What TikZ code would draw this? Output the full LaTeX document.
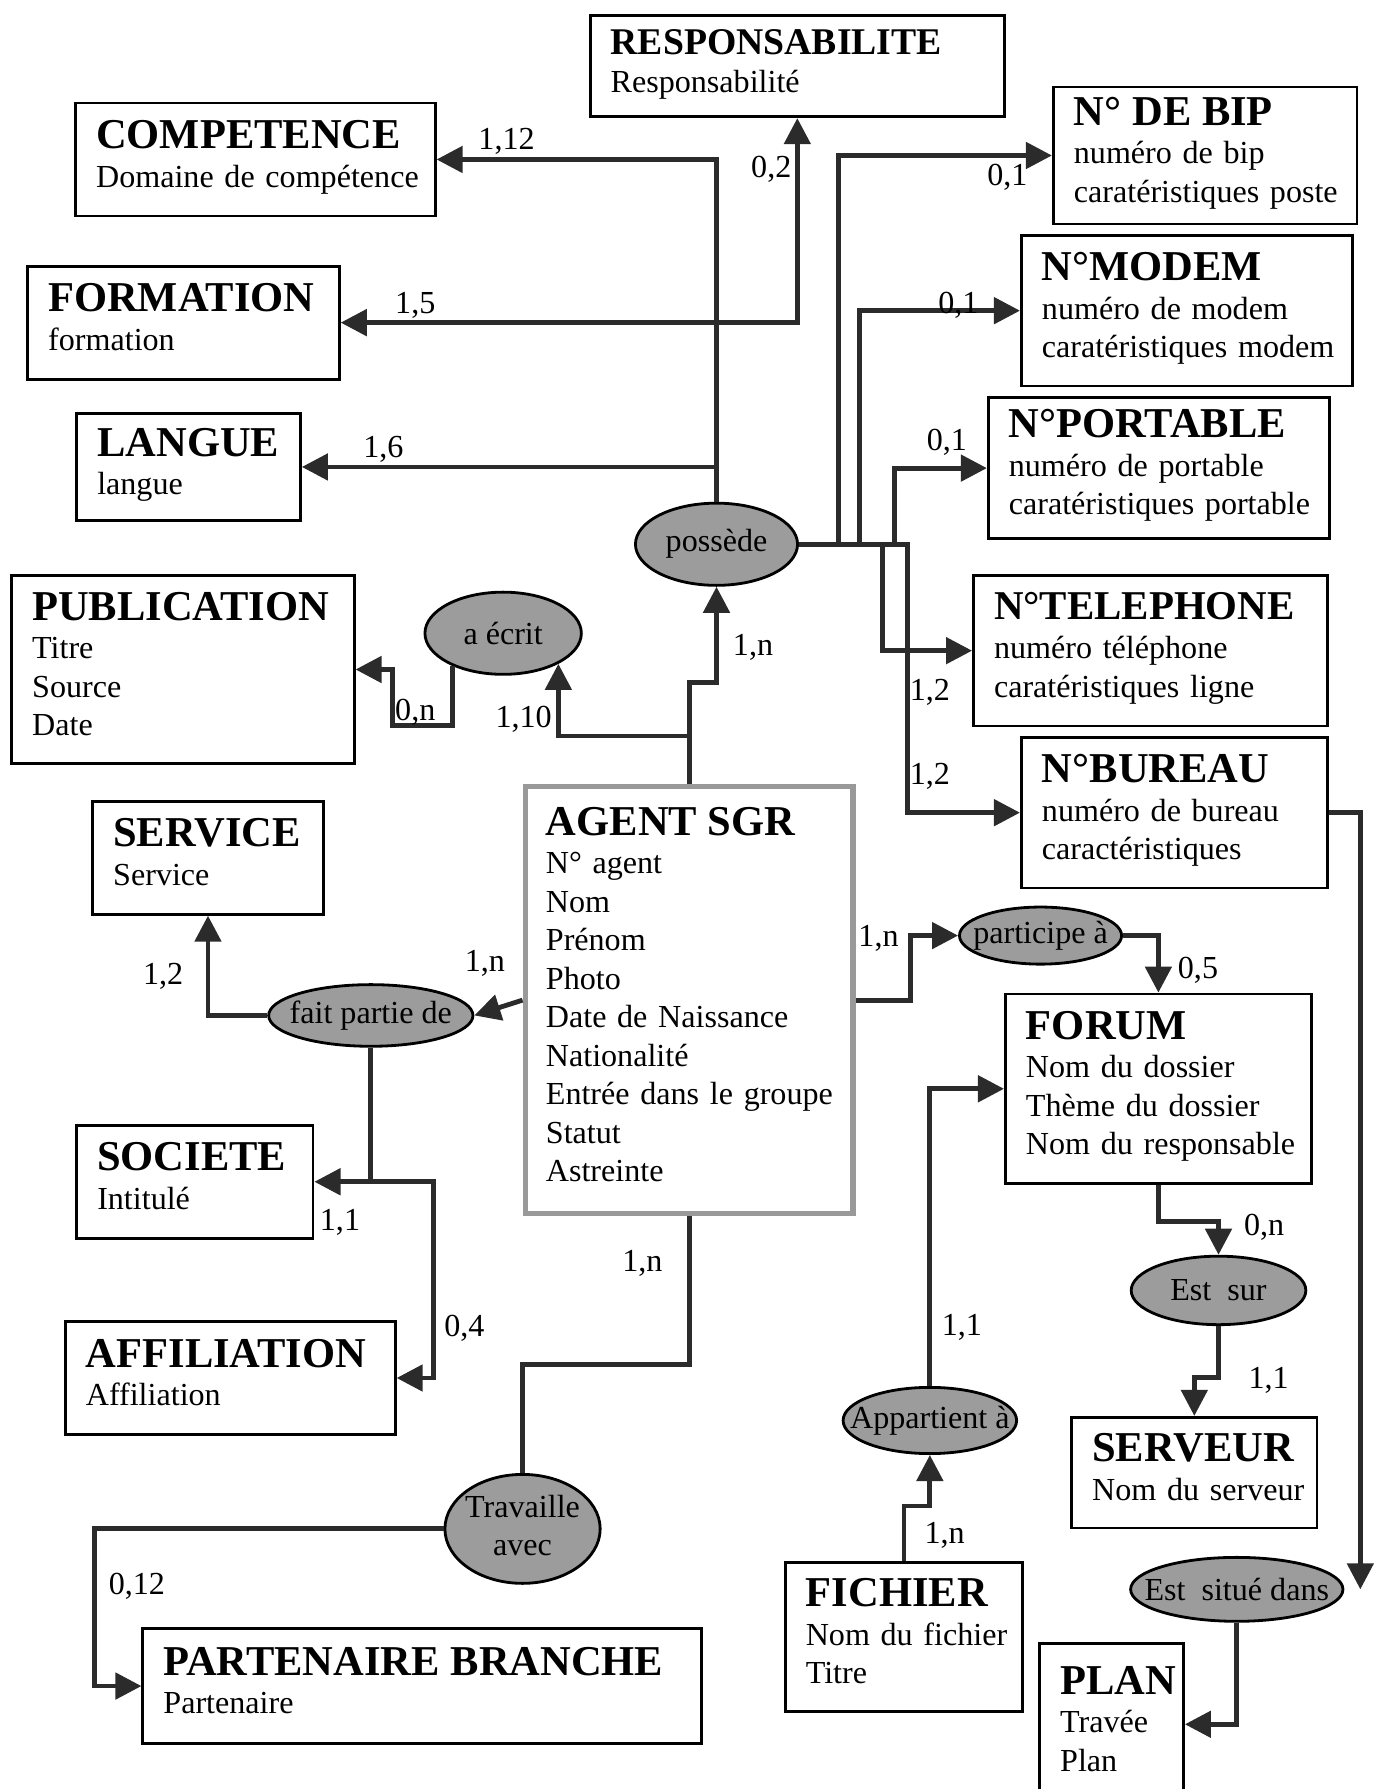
\documentclass[tikz,border=0pt]{standalone}
\usepackage{fontspec}
\setmainfont{Liberation Serif}
\usetikzlibrary{shapes.geometric, arrows.meta}

\definecolor{trait}{HTML}{2B2B2B}
\definecolor{fondrel}{HTML}{9C9C9C}

\newcommand{\titre}[2][10.6]{{\fontsize{#1}{12}\selectfont\bfseries #2}}
\newcommand{\bloc}[1]{\begin{tabular}{@{}l@{}}#1\end{tabular}}
\newcommand{\rel}[1]{\makebox[0pt]{#1}}

\begin{document}
\begin{tikzpicture}[x=0.01cm, y=-0.01cm, >={Triangle[length=6.5pt,width=6.5pt]},
    entite/.style={draw=black, line width=0.7pt, rectangle, anchor=north west, align=left,
        inner xsep=0.18cm, inner ysep=0pt, font=\fontsize{8}{9.6}\selectfont},
    relation/.style={draw=black, line width=0.7pt, ellipse, fill=fondrel, inner sep=0pt,
        font=\fontsize{8}{9.6}\selectfont},
    lien/.style={->, draw=trait, line width=1.2pt},
    liensimple/.style={draw=trait, line width=1.2pt},
    card/.style={inner sep=0pt, font=\fontsize{8}{9.6}\selectfont}]
    % 1. Cadre de la page
    \useasboundingbox (0,0) rectangle (1221,1568);

    % 2. Entités (rectangles)
    \node[entite, text width=3.27cm, minimum height=0.89cm] (resp) at (516,12)
        {\bloc{\titre[9.4]{RESPONSABILITE}\\ Responsabilité}};
    \node[entite, text width=2.79cm, minimum height=0.99cm] (comp) at (65,89)
        {\bloc{\titre{COMPETENCE}\\ Domaine de compétence}};
    \node[entite, text width=2.30cm, minimum height=1.20cm] (bip) at (922,75)
        {\bloc{\titre{N° DE BIP}\\ numéro de bip\\ caratéristiques poste}};
    \node[entite, text width=2.37cm, minimum height=0.99cm] (form) at (23,232)
        {\bloc{\titre{FORMATION}\\ formation}};
    \node[entite, text width=2.54cm, minimum height=1.32cm] (modem) at (894,205)
        {\bloc{\titre{N°MODEM}\\ numéro de modem\\ caratéristiques modem}};
    \node[entite, text width=1.60cm, minimum height=0.94cm] (langue) at (66,361)
        {\bloc{\titre{LANGUE}\\ langue}};
    \node[entite, text width=2.63cm, minimum height=1.24cm] (port) at (865,347)
        {\bloc{\titre{N°PORTABLE}\\ numéro de portable\\ caratéristiques portable}};
    \node[entite, text width=2.64cm, minimum height=1.65cm] (publi) at (9,503)
        {\bloc{\titre{PUBLICATION}\\ Titre\\ Source\\ Date}};
    \node[entite, text width=2.74cm, minimum height=1.32cm] (tel) at (852,503)
        {\bloc{\titre[10.2]{N°TELEPHONE}\\ numéro téléphone\\ caratéristiques ligne}};
    \node[entite, text width=2.32cm, minimum height=1.32cm] (bureau) at (894,645)
        {\bloc{\titre{N°BUREAU}\\ numéro de bureau\\ caractéristiques}};
    \node[entite, text width=1.66cm, minimum height=0.99cm] (service) at (80,701)
        {\bloc{\titre{SERVICE}\\ Service}};
    \node[entite, draw=black!40, line width=1.4pt, text width=2.51cm, minimum height=3.74cm] (agent) at (458,687)
        {\bloc{\titre{AGENT SGR}\\ N° agent\\ Nom\\ Prénom\\ Photo\\ Date de Naissance\\ Nationalité\\
         Entrée dans le groupe\\ Statut\\ Astreinte}};
    \node[entite, text width=2.32cm, minimum height=1.66cm] (forum) at (880,870)
        {\bloc{\titre{FORUM}\\ Nom du dossier\\ Thème du dossier\\ Nom du responsable}};
    \node[entite, text width=1.71cm, minimum height=0.99cm] (societe) at (66,985)
        {\bloc{\titre{SOCIETE}\\ Intitulé}};
    \node[entite, text width=2.53cm, minimum height=0.99cm] (affil) at (56,1157)
        {\bloc{\titre{AFFILIATION}\\ Affiliation}};
    \node[entite, text width=1.79cm, minimum height=0.97cm] (serveur) at (938,1241)
        {\bloc{\titre{SERVEUR}\\ Nom du serveur}};
    \node[entite, text width=1.72cm, minimum height=1.31cm] (fichier) at (687,1368)
        {\bloc{\titre{FICHIER}\\ Nom du fichier\\ Titre}};
    \node[entite, text width=4.53cm, minimum height=1.01cm] (part) at (124,1426)
        {\bloc{\titre{PARTENAIRE BRANCHE}\\ Partenaire}};
    \node[entite, text width=0.90cm, minimum height=1.42cm] (plan) at (910,1439)
        {\bloc{\titre{PLAN}\\ Travée\\ Plan}};

    % 3. Associations (ellipses grises)
    \node[relation, minimum width=1.42cm, minimum height=0.72cm] (possede) at (628,477) {\rel{possède}};
    \node[relation, minimum width=1.37cm, minimum height=0.72cm] (aecrit) at (441,555) {\rel{a écrit}};
    \node[relation, minimum width=1.79cm, minimum height=0.54cm] (faitpartie) at (325,890) {\rel{fait partie de}};
    \node[relation, minimum width=1.42cm, minimum height=0.50cm] (participe) at (912,820) {\rel{participe à}};
    \node[relation, minimum width=1.53cm, minimum height=0.60cm] (estsur) at (1068,1131) {\rel{Est\ \ sur}};
    \node[relation, minimum width=1.52cm, minimum height=0.58cm] (appartient) at (815,1245) {\rel{Appartient à}};
    \node[relation, minimum width=1.36cm, minimum height=0.80cm] (travaille) at (458,1340)
        {\rel{\begin{tabular}{@{}c@{}}Travaille\\ avec\end{tabular}}};
    \node[relation, minimum width=1.86cm, minimum height=0.56cm] (situe) at (1084,1393) {\rel{Est\ \ situé dans}};

    % 4. Liens de possède
    \draw[lien] (possede.north) |- (comp.east);
    \draw[lien] (possede.north |- form.east) -- (form.east);
    \draw[lien] (possede.north |- langue.east) -- (langue.east);
    \draw[lien] (possede.north |- form.east) -| (resp.south);
    \draw[lien] (possede.east) -- ++(35,0) |- (bip.west);
    \draw[lien] (possede.east) -- ++(53,0) |- (modem.west);
    \draw[lien] (possede.east) -- ++(84,0) |- (port.west);
    \draw[lien] (possede.east) -- ++(73,0) |- (tel.west);
    \draw[lien] (possede.east) -- ++(95,0) |- (bureau.west);
    \draw[lien] (agent.north) -- ++(0,-89) -| (possede.south);

    % 5. Liens de a écrit
    \draw[lien] (agent.north) -- ++(0,-42) -| (aecrit.-29);
    \draw[lien] (aecrit.-147) -- ++(0,52) -- ++(-53,0) |- (publi.east);

    % 6. Liens de fait partie de
    \draw[lien] (agent.west) -- (faitpartie.east);
    \draw[lien] (faitpartie.west) -| (service.south);
    \draw[lien] (faitpartie.south) |- (societe.east);
    \draw[lien] (faitpartie.south |- societe.east) -- ++(55,0) |- (affil.east);

    % 7. Liens de travaille avec
    \draw[liensimple] (agent.south) -- ++(0,130) -| (travaille.north);
    \draw[lien] (travaille.west) -| ([xshift=-0.41cm]part.west) -- (part.west);

    % 8. Liens du forum
    \draw[lien] (agent.east) -- ++(48,0) |- (participe.west);
    \draw[lien] (participe.east) -| (forum.north);
    \draw[lien] (forum.south) -- ++(0,32) -| (estsur.north);
    \draw[lien] (estsur.south) -- ++(0,45) -| (serveur.north);
    \draw[lien] (appartient.north) |- (forum.west);
    \draw[lien] (fichier.north) -- ++(0,-48) -| (appartient.south);

    % 9. Liens du bureau
    \draw[lien] (bureau.east) -| ([xshift=0.14cm]situe.east);
    \draw[lien] (situe.south) |- (plan.east);

    % 10. Cardinalités
    \node[card] (cComp) at (444,124) {1,12};
    \node[card] (cForm) at (364,268) {1,5};
    \node[card] (cLangue) at (336,394) {1,6};
    \node[card] (cResp) at (676,148) {0,2};
    \node[card] (cBip) at (883,155) {0,1};
    \node[card] (cModem) at (840,268) {0,1};
    \node[card] (cPort) at (830,388) {0,1};
    \node[card] (cTel) at (815,607) {1,2};
    \node[card] (cBureau) at (815,680) {1,2};
    \node[card] (cPossede) at (660,567) {1,n};
    \node[card] (cEcrit) at (459,630) {1,10};
    \node[card] (cPubli) at (364,624) {0,n};
    \node[card] (cFait) at (425,844) {1,n};
    \node[card] (cService) at (143,856) {1,2};
    \node[card] (cSociete) at (298,1071) {1,1};
    \node[card] (cAffil) at (407,1164) {0,4};
    \node[card] (cTravaille) at (563,1107) {1,n};
    \node[card] (cPart) at (120,1390) {0,12};
    \node[card] (cParticipe) at (770,822) {1,n};
    \node[card] (cForum) at (1050,850) {0,5};
    \node[card] (cEstsur) at (1108,1076) {0,n};
    \node[card] (cServeur) at (1112,1210) {1,1};
    \node[card] (cAppart) at (843,1163) {1,1};
    \node[card] (cFichier) at (828,1346) {1,n};
\end{tikzpicture}
\end{document}
